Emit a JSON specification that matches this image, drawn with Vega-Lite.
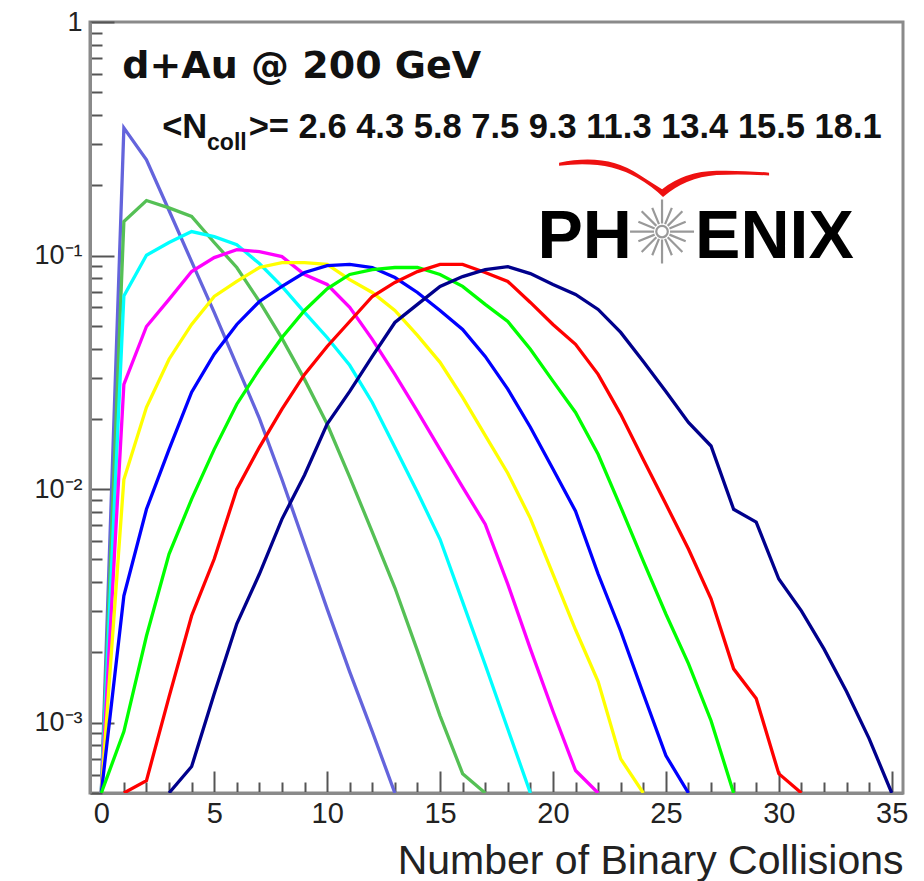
{
  "$schema": "https://vega.github.io/schema/vega-lite/v6.json",
  "width": 813,
  "height": 771,
  "autosize": "none",
  "padding": {"left": 90, "top": 22, "right": 21, "bottom": 88},
  "background": "white",
  "config": {"view": {"stroke": "#8a8a8a", "strokeWidth": 3}, "font": "Liberation Sans"},
  "datasets": {
    "h": [
      {"c": "2.6", "n": 0, "v": 0.0005}, {"c": "2.6", "n": 1, "v": 0.352}, {"c": "2.6", "n": 2, "v": 0.257}, {"c": "2.6", "n": 3, "v": 0.156}, {"c": "2.6", "n": 4, "v": 0.0942}, {"c": "2.6", "n": 5, "v": 0.0571}, {"c": "2.6", "n": 6, "v": 0.0339}, {"c": "2.6", "n": 7, "v": 0.0201}, {"c": "2.6", "n": 8, "v": 0.011}, {"c": "2.6", "n": 9, "v": 0.00582}, {"c": "2.6", "n": 10, "v": 0.00307}, {"c": "2.6", "n": 11, "v": 0.00165}, {"c": "2.6", "n": 12, "v": 0.000916}, {"c": "2.6", "n": 13, "v": 0.0005},
      {"c": "4.3", "n": 0, "v": 0.0005}, {"c": "4.3", "n": 1, "v": 0.14}, {"c": "4.3", "n": 2, "v": 0.172}, {"c": "4.3", "n": 3, "v": 0.16}, {"c": "4.3", "n": 4, "v": 0.147}, {"c": "4.3", "n": 5, "v": 0.1137}, {"c": "4.3", "n": 6, "v": 0.0889}, {"c": "4.3", "n": 7, "v": 0.0636}, {"c": "4.3", "n": 8, "v": 0.0442}, {"c": "4.3", "n": 9, "v": 0.0295}, {"c": "4.3", "n": 10, "v": 0.019}, {"c": "4.3", "n": 11, "v": 0.01125}, {"c": "4.3", "n": 12, "v": 0.00655}, {"c": "4.3", "n": 13, "v": 0.00378}, {"c": "4.3", "n": 14, "v": 0.00203}, {"c": "4.3", "n": 15, "v": 0.00107}, {"c": "4.3", "n": 16, "v": 0.000605}, {"c": "4.3", "n": 17, "v": 0.0005},
      {"c": "5.8", "n": 0, "v": 0.0005}, {"c": "5.8", "n": 1, "v": 0.0672}, {"c": "5.8", "n": 2, "v": 0.1003}, {"c": "5.8", "n": 3, "v": 0.1137}, {"c": "5.8", "n": 4, "v": 0.1267}, {"c": "5.8", "n": 5, "v": 0.1205}, {"c": "5.8", "n": 6, "v": 0.1114}, {"c": "5.8", "n": 7, "v": 0.0924}, {"c": "5.8", "n": 8, "v": 0.0738}, {"c": "5.8", "n": 9, "v": 0.0571}, {"c": "5.8", "n": 10, "v": 0.0446}, {"c": "5.8", "n": 11, "v": 0.0339}, {"c": "5.8", "n": 12, "v": 0.0235}, {"c": "5.8", "n": 13, "v": 0.0151}, {"c": "5.8", "n": 14, "v": 0.0097}, {"c": "5.8", "n": 15, "v": 0.0061}, {"c": "5.8", "n": 16, "v": 0.00329}, {"c": "5.8", "n": 17, "v": 0.00177}, {"c": "5.8", "n": 18, "v": 0.00094}, {"c": "5.8", "n": 19, "v": 0.0005},
      {"c": "7.5", "n": 0, "v": 0.0005}, {"c": "7.5", "n": 1, "v": 0.0281}, {"c": "7.5", "n": 2, "v": 0.0497}, {"c": "7.5", "n": 3, "v": 0.0649}, {"c": "7.5", "n": 4, "v": 0.0854}, {"c": "7.5", "n": 5, "v": 0.098}, {"c": "7.5", "n": 6, "v": 0.106}, {"c": "7.5", "n": 7, "v": 0.104}, {"c": "7.5", "n": 8, "v": 0.099}, {"c": "7.5", "n": 9, "v": 0.083}, {"c": "7.5", "n": 10, "v": 0.0752}, {"c": "7.5", "n": 11, "v": 0.06}, {"c": "7.5", "n": 12, "v": 0.0438}, {"c": "7.5", "n": 13, "v": 0.031}, {"c": "7.5", "n": 14, "v": 0.0215}, {"c": "7.5", "n": 15, "v": 0.0148}, {"c": "7.5", "n": 16, "v": 0.0102}, {"c": "7.5", "n": 17, "v": 0.00708}, {"c": "7.5", "n": 18, "v": 0.00392}, {"c": "7.5", "n": 19, "v": 0.00207}, {"c": "7.5", "n": 20, "v": 0.00112}, {"c": "7.5", "n": 21, "v": 0.000624}, {"c": "7.5", "n": 22, "v": 0.0005},
      {"c": "9.3", "n": 0, "v": 0.0005}, {"c": "9.3", "n": 1, "v": 0.011}, {"c": "9.3", "n": 2, "v": 0.0224}, {"c": "9.3", "n": 3, "v": 0.036}, {"c": "9.3", "n": 4, "v": 0.0507}, {"c": "9.3", "n": 5, "v": 0.0668}, {"c": "9.3", "n": 6, "v": 0.0775}, {"c": "9.3", "n": 7, "v": 0.0889}, {"c": "9.3", "n": 8, "v": 0.0933}, {"c": "9.3", "n": 9, "v": 0.0933}, {"c": "9.3", "n": 10, "v": 0.0916}, {"c": "9.3", "n": 11, "v": 0.0789}, {"c": "9.3", "n": 12, "v": 0.0695}, {"c": "9.3", "n": 13, "v": 0.0582}, {"c": "9.3", "n": 14, "v": 0.0455}, {"c": "9.3", "n": 15, "v": 0.0349}, {"c": "9.3", "n": 16, "v": 0.0247}, {"c": "9.3", "n": 17, "v": 0.017}, {"c": "9.3", "n": 18, "v": 0.0117}, {"c": "9.3", "n": 19, "v": 0.0075}, {"c": "9.3", "n": 20, "v": 0.00433}, {"c": "9.3", "n": 21, "v": 0.0025}, {"c": "9.3", "n": 22, "v": 0.0015}, {"c": "9.3", "n": 23, "v": 0.0007}, {"c": "9.3", "n": 24, "v": 0.0005},
      {"c": "11.3", "n": 0, "v": 0.0005}, {"c": "11.3", "n": 1, "v": 0.00349}, {"c": "11.3", "n": 2, "v": 0.0082}, {"c": "11.3", "n": 3, "v": 0.0148}, {"c": "11.3", "n": 4, "v": 0.026}, {"c": "11.3", "n": 5, "v": 0.0378}, {"c": "11.3", "n": 6, "v": 0.0507}, {"c": "11.3", "n": 7, "v": 0.0636}, {"c": "11.3", "n": 8, "v": 0.0738}, {"c": "11.3", "n": 9, "v": 0.0846}, {"c": "11.3", "n": 10, "v": 0.0906}, {"c": "11.3", "n": 11, "v": 0.0916}, {"c": "11.3", "n": 12, "v": 0.0889}, {"c": "11.3", "n": 13, "v": 0.0805}, {"c": "11.3", "n": 14, "v": 0.0695}, {"c": "11.3", "n": 15, "v": 0.0582}, {"c": "11.3", "n": 16, "v": 0.0483}, {"c": "11.3", "n": 17, "v": 0.037}, {"c": "11.3", "n": 18, "v": 0.0268}, {"c": "11.3", "n": 19, "v": 0.0184}, {"c": "11.3", "n": 20, "v": 0.0122}, {"c": "11.3", "n": 21, "v": 0.00805}, {"c": "11.3", "n": 22, "v": 0.00433}, {"c": "11.3", "n": 23, "v": 0.00247}, {"c": "11.3", "n": 24, "v": 0.00133}, {"c": "11.3", "n": 25, "v": 0.000723}, {"c": "11.3", "n": 26, "v": 0.0005},
      {"c": "13.4", "n": 0, "v": 0.0005}, {"c": "13.4", "n": 1, "v": 0.000916}, {"c": "13.4", "n": 2, "v": 0.00235}, {"c": "13.4", "n": 3, "v": 0.00527}, {"c": "13.4", "n": 4, "v": 0.00906}, {"c": "13.4", "n": 5, "v": 0.0148}, {"c": "13.4", "n": 6, "v": 0.0231}, {"c": "13.4", "n": 7, "v": 0.0326}, {"c": "13.4", "n": 8, "v": 0.0446}, {"c": "13.4", "n": 9, "v": 0.0582}, {"c": "13.4", "n": 10, "v": 0.072}, {"c": "13.4", "n": 11, "v": 0.083}, {"c": "13.4", "n": 12, "v": 0.0871}, {"c": "13.4", "n": 13, "v": 0.0889}, {"c": "13.4", "n": 14, "v": 0.0889}, {"c": "13.4", "n": 15, "v": 0.083}, {"c": "13.4", "n": 16, "v": 0.0738}, {"c": "13.4", "n": 17, "v": 0.0618}, {"c": "13.4", "n": 18, "v": 0.0522}, {"c": "13.4", "n": 19, "v": 0.0397}, {"c": "13.4", "n": 20, "v": 0.029}, {"c": "13.4", "n": 21, "v": 0.0213}, {"c": "13.4", "n": 22, "v": 0.0141}, {"c": "13.4", "n": 23, "v": 0.00838}, {"c": "13.4", "n": 24, "v": 0.00492}, {"c": "13.4", "n": 25, "v": 0.00292}, {"c": "13.4", "n": 26, "v": 0.00179}, {"c": "13.4", "n": 27, "v": 0.00102}, {"c": "13.4", "n": 28, "v": 0.0005},
      {"c": "15.5", "n": 1, "v": 0.0005}, {"c": "15.5", "n": 2, "v": 0.000565}, {"c": "15.5", "n": 3, "v": 0.00129}, {"c": "15.5", "n": 4, "v": 0.00287}, {"c": "15.5", "n": 5, "v": 0.00502}, {"c": "15.5", "n": 6, "v": 0.01}, {"c": "15.5", "n": 7, "v": 0.0151}, {"c": "15.5", "n": 8, "v": 0.022}, {"c": "15.5", "n": 9, "v": 0.031}, {"c": "15.5", "n": 10, "v": 0.0408}, {"c": "15.5", "n": 11, "v": 0.0522}, {"c": "15.5", "n": 12, "v": 0.0668}, {"c": "15.5", "n": 13, "v": 0.0767}, {"c": "15.5", "n": 14, "v": 0.0854}, {"c": "15.5", "n": 15, "v": 0.0916}, {"c": "15.5", "n": 16, "v": 0.0916}, {"c": "15.5", "n": 17, "v": 0.0846}, {"c": "15.5", "n": 18, "v": 0.0775}, {"c": "15.5", "n": 19, "v": 0.063}, {"c": "15.5", "n": 20, "v": 0.0507}, {"c": "15.5", "n": 21, "v": 0.0417}, {"c": "15.5", "n": 22, "v": 0.031}, {"c": "15.5", "n": 23, "v": 0.0209}, {"c": "15.5", "n": 24, "v": 0.0134}, {"c": "15.5", "n": 25, "v": 0.00863}, {"c": "15.5", "n": 26, "v": 0.00554}, {"c": "15.5", "n": 27, "v": 0.00339}, {"c": "15.5", "n": 28, "v": 0.0017}, {"c": "15.5", "n": 29, "v": 0.00127}, {"c": "15.5", "n": 30, "v": 0.000605}, {"c": "15.5", "n": 31, "v": 0.0005},
      {"c": "18.1", "n": 3, "v": 0.0005}, {"c": "18.1", "n": 4, "v": 0.000649}, {"c": "18.1", "n": 5, "v": 0.00133}, {"c": "18.1", "n": 6, "v": 0.00265}, {"c": "18.1", "n": 7, "v": 0.00433}, {"c": "18.1", "n": 8, "v": 0.00744}, {"c": "18.1", "n": 9, "v": 0.0115}, {"c": "18.1", "n": 10, "v": 0.019}, {"c": "18.1", "n": 11, "v": 0.0262}, {"c": "18.1", "n": 12, "v": 0.037}, {"c": "18.1", "n": 13, "v": 0.0517}, {"c": "18.1", "n": 14, "v": 0.0618}, {"c": "18.1", "n": 15, "v": 0.0738}, {"c": "18.1", "n": 16, "v": 0.0813}, {"c": "18.1", "n": 17, "v": 0.0871}, {"c": "18.1", "n": 18, "v": 0.0897}, {"c": "18.1", "n": 19, "v": 0.0837}, {"c": "18.1", "n": 20, "v": 0.0752}, {"c": "18.1", "n": 21, "v": 0.0682}, {"c": "18.1", "n": 22, "v": 0.0588}, {"c": "18.1", "n": 23, "v": 0.0469}, {"c": "18.1", "n": 24, "v": 0.0352}, {"c": "18.1", "n": 25, "v": 0.0262}, {"c": "18.1", "n": 26, "v": 0.0193}, {"c": "18.1", "n": 27, "v": 0.0153}, {"c": "18.1", "n": 28, "v": 0.0082}, {"c": "18.1", "n": 29, "v": 0.00723}, {"c": "18.1", "n": 30, "v": 0.00412}, {"c": "18.1", "n": 31, "v": 0.00301}, {"c": "18.1", "n": 32, "v": 0.00207}, {"c": "18.1", "n": 33, "v": 0.00136}, {"c": "18.1", "n": 34, "v": 0.000855}, {"c": "18.1", "n": 35, "v": 0.0005}
    ]
  },
  "layer": [
    {
      "data": {"name": "h"},
      "mark": {"type": "point", "opacity": 0},
      "encoding": {
        "x": {"field": "n", "type": "quantitative", "scale": {"domain": [-0.5, 35.5], "nice": false, "zero": false},
          "axis": {"orient": "bottom", "values": [0,1,2,3,4,6,7,8,9,11,12,13,14,16,17,18,19,21,22,23,24,26,27,28,29,31,32,33,34], "tickSize": -11, "tickColor": "#555", "tickWidth": 2, "labels": false, "domain": false, "grid": false, "title": null}},
        "y": {"field": "v", "type": "quantitative", "scale": {"type": "log", "domain": [0.0005, 1], "nice": false},
          "axis": {"orient": "left", "values": [0.0005,0.0006,0.0007,0.0008,0.0009,0.002,0.003,0.004,0.005,0.006,0.007,0.008,0.009,0.02,0.03,0.04,0.05,0.06,0.07,0.08,0.09,0.2,0.3,0.4,0.5,0.6,0.7,0.8,0.9], "tickSize": -12, "tickColor": "#555", "tickWidth": 2, "labels": false, "domain": false, "grid": false, "title": null}}
      }
    },
    {
      "data": {"name": "h"},
      "mark": {"type": "line", "strokeWidth": 3.3, "clip": true},
      "encoding": {
        "x": {"field": "n", "type": "quantitative", "scale": {"domain": [-0.5, 35.5], "nice": false, "zero": false},
          "axis": {"orient": "bottom", "values": [0,5,10,15,20,25,30,35], "tickSize": -22, "tickColor": "#555", "tickWidth": 2, "domainColor": "#8a8a8a", "domainWidth": 3,
            "labelFont": "Liberation Sans", "labelFontSize": 29, "labelColor": "#222", "labelPadding": 28, "labelFlush": false, "labelOverlap": false, "grid": false,
            "title": "Number of Binary Collisions", "titleFont": "Liberation Sans", "titleFontSize": 41, "titleFontWeight": "normal", "titleColor": "#222",
            "titleAnchor": "end", "titleAlign": "right", "titleBaseline": "alphabetic", "titleX": 813, "titleY": 80}},
        "y": {"field": "v", "type": "quantitative", "scale": {"type": "log", "domain": [0.0005, 1], "nice": false},
          "axis": {"orient": "left", "values": [0.001, 0.01, 0.1, 1], "tickSize": -24, "tickColor": "#555", "tickWidth": 2, "domainColor": "#8a8a8a", "domainWidth": 3,
            "labelExpr": "datum.value == 1 ? '1' : datum.value == 0.1 ? '10⁻¹' : datum.value == 0.01 ? '10⁻²' : '10⁻³'",
            "labelFont": "Liberation Sans", "labelFontSize": 27, "labelColor": "#222", "labelPadding": 32, "labelFlush": false, "labelOverlap": false, "grid": false, "title": null}},
        "color": {"field": "c", "type": "nominal", "legend": null,
          "scale": {"domain": ["2.6", "4.3", "5.8", "7.5", "9.3", "11.3", "13.4", "15.5", "18.1"],
            "range": ["#6464dc", "#55c055", "#00ffff", "#ff00ff", "#ffff00", "#0000ff", "#00ff00", "#ff0000", "#00008c"]}},
        "order": {"field": "n", "type": "quantitative"}
      }
    },
    {
      "data": {"values": [{}]},
      "mark": {"type": "text", "text": "d+Au @ 200 GeV", "font": "DejaVu Sans", "fontWeight": "bold", "fontSize": 38, "align": "left", "baseline": "alphabetic", "color": "#111"},
      "encoding": {
        "x": {"datum": 0.93, "type": "quantitative", "axis": null},
        "y": {"datum": 0.576, "type": "quantitative", "axis": null}
      }
    },
    {
      "data": {"values": [{}]},
      "mark": {"type": "text", "text": "<N", "font": "Liberation Sans", "fontWeight": "bold", "fontSize": 34.5, "align": "left", "baseline": "alphabetic", "color": "#111"},
      "encoding": {
        "x": {"datum": 2.695, "type": "quantitative", "axis": null},
        "y": {"datum": 0.319, "type": "quantitative", "axis": null}
      }
    },
    {
      "data": {"values": [{}]},
      "mark": {"type": "text", "text": "coll", "font": "Liberation Sans", "fontWeight": "bold", "fontSize": 23, "align": "left", "baseline": "alphabetic", "color": "#111"},
      "encoding": {
        "x": {"datum": 4.684, "type": "quantitative", "axis": null},
        "y": {"datum": 0.2838, "type": "quantitative", "axis": null}
      }
    },
    {
      "data": {"values": [{}]},
      "mark": {"type": "text", "text": ">= 2.6 4.3 5.8 7.5 9.3 11.3 13.4 15.5 18.1", "font": "Liberation Sans", "fontWeight": "bold", "fontSize": 34.5, "align": "right", "baseline": "alphabetic", "color": "#111"},
      "encoding": {
        "x": {"datum": 34.56, "type": "quantitative", "axis": null},
        "y": {"datum": 0.319, "type": "quantitative", "axis": null}
      }
    },
    {
      "data": {"values": [{}]},
      "mark": {"type": "point", "shape": "M-1,-0.162Q-0.55,-0.26 -0.24,-0.05Q-0.1,0.04 -0.019,0.09Q0.2,-0.08 0.5,-0.085Q0.75,-0.09 1,-0.067L1,-0.04Q0.75,-0.055 0.5,-0.045Q0.2,-0.02 -0.01,0.165Q-0.12,0.06 -0.26,-0.02Q-0.55,-0.19 -1,-0.132Z", "filled": true, "color": "#ee1111", "opacity": 1, "size": 44100, "strokeWidth": 0},
      "encoding": {
        "x": {"datum": 24.92, "type": "quantitative", "axis": null},
        "y": {"datum": 0.2113, "type": "quantitative", "axis": null}
      }
    },
    {
      "data": {"values": [{}]},
      "mark": {"type": "point", "shape": "M0.25,0L1,0M0.231,0.096L0.739,0.306M0.177,0.177L0.636,0.636M0.096,0.231L0.306,0.739M0,0.25L0,1M-0.096,0.231L-0.306,0.739M-0.177,0.177L-0.636,0.636M-0.231,0.096L-0.739,0.306M-0.25,0L-1,0M-0.231,-0.096L-0.739,-0.306M-0.177,-0.177L-0.636,-0.636M-0.096,-0.231L-0.306,-0.739M0,-0.25L0,-1M0.096,-0.231L0.306,-0.739M0.177,-0.177L0.636,-0.636M0.231,-0.096L0.739,-0.306M0.18,0A0.18,0.18 0 1,1 -0.18,0A0.18,0.18 0 1,1 0.18,0", "filled": false, "stroke": "#999999", "strokeWidth": 2.2, "opacity": 1, "size": 4096},
      "encoding": {
        "x": {"datum": 24.83, "type": "quantitative", "axis": null},
        "y": {"datum": 0.1267, "type": "quantitative", "axis": null}
      }
    },
    {
      "data": {"values": [{}]},
      "mark": {"type": "text", "text": "PH", "font": "Liberation Sans", "fontWeight": "bold", "fontSize": 68, "align": "left", "baseline": "alphabetic", "color": "#000"},
      "encoding": {
        "x": {"datum": 19.31, "type": "quantitative", "axis": null},
        "y": {"datum": 0.098, "type": "quantitative", "axis": null}
      }
    },
    {
      "data": {"values": [{}]},
      "mark": {"type": "text", "text": "ENIX", "font": "Liberation Sans", "fontWeight": "bold", "fontSize": 68, "align": "right", "baseline": "alphabetic", "color": "#000"},
      "encoding": {
        "x": {"datum": 33.32, "type": "quantitative", "axis": null},
        "y": {"datum": 0.098, "type": "quantitative", "axis": null}
      }
    }
  ],
  "resolve": {"axis": {"x": "independent", "y": "independent"}}
}
